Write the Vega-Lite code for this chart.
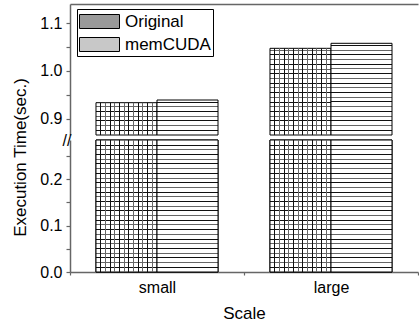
{
  "$schema": "https://vega.github.io/schema/vega-lite/v6.json",
  "padding": {"left": 11, "top": 4, "right": 0, "bottom": 0},
  "spacing": 5,
  "bounds": "flush",
  "data": {"values": [
    {"scale": "small", "series": "Original", "value": 0.9336},
    {"scale": "small", "series": "memCUDA", "value": 0.9392},
    {"scale": "large", "series": "Original", "value": 1.0473},
    {"scale": "large", "series": "memCUDA", "value": 1.0578}
  ]},
  "config": {
    "font": "Liberation Sans",
    "view": {"stroke": null},
    "axis": {"labelColor": "black", "titleColor": "black", "titleFontWeight": "normal", "domainColor": "#666", "tickColor": "#666", "domainWidth": 1.5, "tickWidth": 1.2, "grid": false, "labelFont": "Liberation Sans", "titleFont": "Liberation Sans"}
  },
  "vconcat": [
    {
      "width": 348, "height": 131,
      "encoding": {
        "x": {"field": "scale", "type": "nominal", "scale": {"domain": ["small", "large"], "paddingInner": 0, "paddingOuter": 0}, "axis": {"orient": "top", "labels": false, "ticks": false, "title": null}},
        "xOffset": {"field": "series", "type": "nominal", "scale": {"domain": ["Original", "memCUDA"], "paddingInner": 0, "paddingOuter": 0.426}},
        "y": {"field": "value", "type": "quantitative", "scale": {"domain": [0.866, 1.14], "clamp": true, "zero": false, "nice": false}, "axis": {"title": null, "values": [0.9, 0.95, 1.0, 1.05, 1.1], "labelExpr": "abs(datum.value*10 - round(datum.value*10)) < 0.001 ? format(datum.value, '.1f') : ''", "tickSize": 4, "labelPadding": 4, "labelFontSize": 16}},
        "y2": {"datum": 0}
      },
      "layer": [
        {"transform": [{"filter": "datum.scale === 'small' && datum.series === 'Original'"}],
         "mark": {"type": "bar", "stroke": "black", "strokeWidth": 1, "fill": {"gradient": "linear", "x1": 0, "y1": 1, "x2": 0, "y2": 0, "stops": [
           {"offset": 0, "color": "white"},
           {"offset": 0.1313, "color": "white"}, {"offset": 0.1313, "color": "#111"}, {"offset": 0.1625, "color": "#111"}, {"offset": 0.1625, "color": "white"},
           {"offset": 0.2782, "color": "white"}, {"offset": 0.2782, "color": "#666"}, {"offset": 0.3094, "color": "#666"}, {"offset": 0.3094, "color": "white"},
           {"offset": 0.4251, "color": "white"}, {"offset": 0.4251, "color": "#111"}, {"offset": 0.4563, "color": "#111"}, {"offset": 0.4563, "color": "white"},
           {"offset": 0.5720, "color": "white"}, {"offset": 0.5720, "color": "#666"}, {"offset": 0.6032, "color": "#666"}, {"offset": 0.6032, "color": "white"},
           {"offset": 0.7189, "color": "white"}, {"offset": 0.7189, "color": "#111"}, {"offset": 0.7501, "color": "#111"}, {"offset": 0.7501, "color": "white"},
           {"offset": 0.8658, "color": "white"}, {"offset": 0.8658, "color": "#666"}, {"offset": 0.8970, "color": "#666"}, {"offset": 0.8970, "color": "white"},
           {"offset": 1, "color": "white"}]}}},
        {"transform": [{"filter": "datum.scale === 'small' && datum.series === 'memCUDA'"}],
         "mark": {"type": "bar", "stroke": "black", "strokeWidth": 1, "fill": {"gradient": "linear", "x1": 0, "y1": 1, "x2": 0, "y2": 0, "stops": [
           {"offset": 0, "color": "white"},
           {"offset": 0.1204, "color": "white"}, {"offset": 0.1204, "color": "#111"}, {"offset": 0.1490, "color": "#111"}, {"offset": 0.1490, "color": "white"},
           {"offset": 0.2551, "color": "white"}, {"offset": 0.2551, "color": "#666"}, {"offset": 0.2837, "color": "#666"}, {"offset": 0.2837, "color": "white"},
           {"offset": 0.3898, "color": "white"}, {"offset": 0.3898, "color": "#111"}, {"offset": 0.4184, "color": "#111"}, {"offset": 0.4184, "color": "white"},
           {"offset": 0.5245, "color": "white"}, {"offset": 0.5245, "color": "#666"}, {"offset": 0.5531, "color": "#666"}, {"offset": 0.5531, "color": "white"},
           {"offset": 0.6592, "color": "white"}, {"offset": 0.6592, "color": "#111"}, {"offset": 0.6878, "color": "#111"}, {"offset": 0.6878, "color": "white"},
           {"offset": 0.7939, "color": "white"}, {"offset": 0.7939, "color": "#666"}, {"offset": 0.8225, "color": "#666"}, {"offset": 0.8225, "color": "white"},
           {"offset": 0.9286, "color": "white"}, {"offset": 0.9286, "color": "#111"}, {"offset": 0.9572, "color": "#111"}, {"offset": 0.9572, "color": "white"},
           {"offset": 1, "color": "white"}]}}},
        {"transform": [{"filter": "datum.scale === 'large' && datum.series === 'Original'"}],
         "mark": {"type": "bar", "stroke": "black", "strokeWidth": 1, "fill": {"gradient": "linear", "x1": 0, "y1": 1, "x2": 0, "y2": 0, "stops": [
           {"offset": 0, "color": "white"},
           {"offset": 0.0485, "color": "white"}, {"offset": 0.0485, "color": "#111"}, {"offset": 0.0601, "color": "#111"}, {"offset": 0.0601, "color": "white"},
           {"offset": 0.1029, "color": "white"}, {"offset": 0.1029, "color": "#666"}, {"offset": 0.1145, "color": "#666"}, {"offset": 0.1145, "color": "white"},
           {"offset": 0.1572, "color": "white"}, {"offset": 0.1572, "color": "#111"}, {"offset": 0.1688, "color": "#111"}, {"offset": 0.1688, "color": "white"},
           {"offset": 0.2116, "color": "white"}, {"offset": 0.2116, "color": "#666"}, {"offset": 0.2232, "color": "#666"}, {"offset": 0.2232, "color": "white"},
           {"offset": 0.2659, "color": "white"}, {"offset": 0.2659, "color": "#111"}, {"offset": 0.2775, "color": "#111"}, {"offset": 0.2775, "color": "white"},
           {"offset": 0.3202, "color": "white"}, {"offset": 0.3202, "color": "#666"}, {"offset": 0.3318, "color": "#666"}, {"offset": 0.3318, "color": "white"},
           {"offset": 0.3746, "color": "white"}, {"offset": 0.3746, "color": "#111"}, {"offset": 0.3862, "color": "#111"}, {"offset": 0.3862, "color": "white"},
           {"offset": 0.4289, "color": "white"}, {"offset": 0.4289, "color": "#666"}, {"offset": 0.4405, "color": "#666"}, {"offset": 0.4405, "color": "white"},
           {"offset": 0.4833, "color": "white"}, {"offset": 0.4833, "color": "#111"}, {"offset": 0.4949, "color": "#111"}, {"offset": 0.4949, "color": "white"},
           {"offset": 0.5376, "color": "white"}, {"offset": 0.5376, "color": "#666"}, {"offset": 0.5492, "color": "#666"}, {"offset": 0.5492, "color": "white"},
           {"offset": 0.5919, "color": "white"}, {"offset": 0.5919, "color": "#111"}, {"offset": 0.6035, "color": "#111"}, {"offset": 0.6035, "color": "white"},
           {"offset": 0.6463, "color": "white"}, {"offset": 0.6463, "color": "#666"}, {"offset": 0.6579, "color": "#666"}, {"offset": 0.6579, "color": "white"},
           {"offset": 0.7006, "color": "white"}, {"offset": 0.7006, "color": "#111"}, {"offset": 0.7122, "color": "#111"}, {"offset": 0.7122, "color": "white"},
           {"offset": 0.7550, "color": "white"}, {"offset": 0.7550, "color": "#666"}, {"offset": 0.7666, "color": "#666"}, {"offset": 0.7666, "color": "white"},
           {"offset": 0.8093, "color": "white"}, {"offset": 0.8093, "color": "#111"}, {"offset": 0.8209, "color": "#111"}, {"offset": 0.8209, "color": "white"},
           {"offset": 0.8636, "color": "white"}, {"offset": 0.8636, "color": "#666"}, {"offset": 0.8752, "color": "#666"}, {"offset": 0.8752, "color": "white"},
           {"offset": 0.9180, "color": "white"}, {"offset": 0.9180, "color": "#111"}, {"offset": 0.9296, "color": "#111"}, {"offset": 0.9296, "color": "white"},
           {"offset": 0.9723, "color": "white"}, {"offset": 0.9723, "color": "#666"}, {"offset": 0.9839, "color": "#666"}, {"offset": 0.9839, "color": "white"},
           {"offset": 1, "color": "white"}]}}},
        {"transform": [{"filter": "datum.scale === 'large' && datum.series === 'memCUDA'"}],
         "mark": {"type": "bar", "stroke": "black", "strokeWidth": 1, "fill": {"gradient": "linear", "x1": 0, "y1": 1, "x2": 0, "y2": 0, "stops": [
           {"offset": 0, "color": "white"},
           {"offset": 0.0460, "color": "white"}, {"offset": 0.0460, "color": "#111"}, {"offset": 0.0570, "color": "#111"}, {"offset": 0.0570, "color": "white"},
           {"offset": 0.0975, "color": "white"}, {"offset": 0.0975, "color": "#666"}, {"offset": 0.1085, "color": "#666"}, {"offset": 0.1085, "color": "white"},
           {"offset": 0.1489, "color": "white"}, {"offset": 0.1489, "color": "#111"}, {"offset": 0.1599, "color": "#111"}, {"offset": 0.1599, "color": "white"},
           {"offset": 0.2004, "color": "white"}, {"offset": 0.2004, "color": "#666"}, {"offset": 0.2114, "color": "#666"}, {"offset": 0.2114, "color": "white"},
           {"offset": 0.2519, "color": "white"}, {"offset": 0.2519, "color": "#111"}, {"offset": 0.2629, "color": "#111"}, {"offset": 0.2629, "color": "white"},
           {"offset": 0.3034, "color": "white"}, {"offset": 0.3034, "color": "#666"}, {"offset": 0.3144, "color": "#666"}, {"offset": 0.3144, "color": "white"},
           {"offset": 0.3549, "color": "white"}, {"offset": 0.3549, "color": "#111"}, {"offset": 0.3659, "color": "#111"}, {"offset": 0.3659, "color": "white"},
           {"offset": 0.4063, "color": "white"}, {"offset": 0.4063, "color": "#666"}, {"offset": 0.4173, "color": "#666"}, {"offset": 0.4173, "color": "white"},
           {"offset": 0.4578, "color": "white"}, {"offset": 0.4578, "color": "#111"}, {"offset": 0.4688, "color": "#111"}, {"offset": 0.4688, "color": "white"},
           {"offset": 0.5093, "color": "white"}, {"offset": 0.5093, "color": "#666"}, {"offset": 0.5203, "color": "#666"}, {"offset": 0.5203, "color": "white"},
           {"offset": 0.5608, "color": "white"}, {"offset": 0.5608, "color": "#111"}, {"offset": 0.5718, "color": "#111"}, {"offset": 0.5718, "color": "white"},
           {"offset": 0.6123, "color": "white"}, {"offset": 0.6123, "color": "#666"}, {"offset": 0.6233, "color": "#666"}, {"offset": 0.6233, "color": "white"},
           {"offset": 0.6637, "color": "white"}, {"offset": 0.6637, "color": "#111"}, {"offset": 0.6747, "color": "#111"}, {"offset": 0.6747, "color": "white"},
           {"offset": 0.7152, "color": "white"}, {"offset": 0.7152, "color": "#666"}, {"offset": 0.7262, "color": "#666"}, {"offset": 0.7262, "color": "white"},
           {"offset": 0.7667, "color": "white"}, {"offset": 0.7667, "color": "#111"}, {"offset": 0.7777, "color": "#111"}, {"offset": 0.7777, "color": "white"},
           {"offset": 0.8182, "color": "white"}, {"offset": 0.8182, "color": "#666"}, {"offset": 0.8292, "color": "#666"}, {"offset": 0.8292, "color": "white"},
           {"offset": 0.8697, "color": "white"}, {"offset": 0.8697, "color": "#111"}, {"offset": 0.8807, "color": "#111"}, {"offset": 0.8807, "color": "white"},
           {"offset": 0.9211, "color": "white"}, {"offset": 0.9211, "color": "#666"}, {"offset": 0.9321, "color": "#666"}, {"offset": 0.9321, "color": "white"},
           {"offset": 0.9726, "color": "white"}, {"offset": 0.9726, "color": "#111"}, {"offset": 0.9836, "color": "#111"}, {"offset": 0.9836, "color": "white"},
           {"offset": 1, "color": "white"}]}}},
        {"transform": [{"filter": "datum.series === 'Original'"}],
         "mark": {"type": "bar", "strokeWidth": 0, "fill": {"gradient": "linear", "x1": 0, "y1": 0, "x2": 1, "y2": 0, "stops": [
           {"offset": 0, "color": "transparent"},
           {"offset": 0.0689, "color": "transparent"}, {"offset": 0.0689, "color": "#111"}, {"offset": 0.0853, "color": "#111"}, {"offset": 0.0853, "color": "transparent"},
           {"offset": 0.1459, "color": "transparent"}, {"offset": 0.1459, "color": "#666"}, {"offset": 0.1623, "color": "#666"}, {"offset": 0.1623, "color": "transparent"},
           {"offset": 0.2230, "color": "transparent"}, {"offset": 0.2230, "color": "#111"}, {"offset": 0.2394, "color": "#111"}, {"offset": 0.2394, "color": "transparent"},
           {"offset": 0.3000, "color": "transparent"}, {"offset": 0.3000, "color": "#666"}, {"offset": 0.3164, "color": "#666"}, {"offset": 0.3164, "color": "transparent"},
           {"offset": 0.3771, "color": "transparent"}, {"offset": 0.3771, "color": "#111"}, {"offset": 0.3935, "color": "#111"}, {"offset": 0.3935, "color": "transparent"},
           {"offset": 0.4541, "color": "transparent"}, {"offset": 0.4541, "color": "#666"}, {"offset": 0.4705, "color": "#666"}, {"offset": 0.4705, "color": "transparent"},
           {"offset": 0.5312, "color": "transparent"}, {"offset": 0.5312, "color": "#111"}, {"offset": 0.5476, "color": "#111"}, {"offset": 0.5476, "color": "transparent"},
           {"offset": 0.6082, "color": "transparent"}, {"offset": 0.6082, "color": "#666"}, {"offset": 0.6246, "color": "#666"}, {"offset": 0.6246, "color": "transparent"},
           {"offset": 0.6853, "color": "transparent"}, {"offset": 0.6853, "color": "#111"}, {"offset": 0.7017, "color": "#111"}, {"offset": 0.7017, "color": "transparent"},
           {"offset": 0.7623, "color": "transparent"}, {"offset": 0.7623, "color": "#666"}, {"offset": 0.7787, "color": "#666"}, {"offset": 0.7787, "color": "transparent"},
           {"offset": 0.8394, "color": "transparent"}, {"offset": 0.8394, "color": "#111"}, {"offset": 0.8558, "color": "#111"}, {"offset": 0.8558, "color": "transparent"},
           {"offset": 0.9164, "color": "transparent"}, {"offset": 0.9164, "color": "#666"}, {"offset": 0.9328, "color": "#666"}, {"offset": 0.9328, "color": "transparent"},
           {"offset": 1, "color": "transparent"}]}}}
      ]
    },
    {
      "width": 348, "height": 132,
      "encoding": {
        "x": {"field": "scale", "type": "nominal", "scale": {"domain": ["small", "large"], "paddingInner": 0, "paddingOuter": 0}, "axis": {"title": "Scale", "labelAngle": 0, "tickBand": "extent", "tickSize": 3, "labelPadding": 4, "labelFontSize": 16, "titleFontSize": 17, "titlePadding": 10}},
        "xOffset": {"field": "series", "type": "nominal", "scale": {"domain": ["Original", "memCUDA"], "paddingInner": 0, "paddingOuter": 0.426}},
        "y": {"field": "value", "type": "quantitative", "scale": {"domain": [0, 0.2845], "clamp": true, "nice": false}, "axis": {"title": "Execution Time(sec.)", "titleFontSize": 17, "titleY": 17, "titlePadding": 10, "values": [0, 0.05, 0.1, 0.15, 0.2, 0.25, 0.2845], "labelExpr": "datum.value > 0.28 ? '\u00a0//' : abs(datum.value*10 - round(datum.value*10)) < 0.001 ? format(datum.value, '.1f') : ''", "labelAlign": {"condition": {"test": "datum.value > 0.28", "value": "left"}, "value": "right"}, "tickOpacity": {"condition": {"test": "datum.value > 0.28", "value": 0}, "value": 1}, "tickSize": 4, "labelPadding": 4, "labelFontSize": 16}},
        "y2": {"datum": 0}
      },
      "layer": [
        {"mark": {"type": "bar", "stroke": "black", "strokeWidth": 1},
         "encoding": {"color": {"field": "series", "type": "nominal", "scale": {"domain": ["Original", "memCUDA"], "range": ["#9a9a9a", "#c8c8c8"]},
         "legend": {"orient": "none", "legendX": 7, "legendY": 5, "title": null, "symbolType": "M-1,-0.7H3V0.7H-1Z", "symbolSize": 400, "symbolStrokeColor": "black", "symbolStrokeWidth": 1, "labelFont": "Liberation Sans", "labelFontSize": 17, "labelColor": "black", "labelOffset": 25, "labelLimit": 0, "padding": 2, "rowPadding": 3, "strokeColor": "black", "fillColor": "white"}}}},
        {"mark": {"type": "bar", "stroke": "black", "strokeWidth": 1, "fill": {"gradient": "linear", "x1": 0, "y1": 1, "x2": 0, "y2": 0, "stops": [
           {"offset": 0, "color": "white"},
           {"offset": 0.0318, "color": "white"}, {"offset": 0.0318, "color": "#111"}, {"offset": 0.0394, "color": "#111"}, {"offset": 0.0394, "color": "white"},
           {"offset": 0.0674, "color": "white"}, {"offset": 0.0674, "color": "#666"}, {"offset": 0.0750, "color": "#666"}, {"offset": 0.0750, "color": "white"},
           {"offset": 0.1030, "color": "white"}, {"offset": 0.1030, "color": "#111"}, {"offset": 0.1106, "color": "#111"}, {"offset": 0.1106, "color": "white"},
           {"offset": 0.1386, "color": "white"}, {"offset": 0.1386, "color": "#666"}, {"offset": 0.1462, "color": "#666"}, {"offset": 0.1462, "color": "white"},
           {"offset": 0.1742, "color": "white"}, {"offset": 0.1742, "color": "#111"}, {"offset": 0.1818, "color": "#111"}, {"offset": 0.1818, "color": "white"},
           {"offset": 0.2098, "color": "white"}, {"offset": 0.2098, "color": "#666"}, {"offset": 0.2174, "color": "#666"}, {"offset": 0.2174, "color": "white"},
           {"offset": 0.2454, "color": "white"}, {"offset": 0.2454, "color": "#111"}, {"offset": 0.2530, "color": "#111"}, {"offset": 0.2530, "color": "white"},
           {"offset": 0.2810, "color": "white"}, {"offset": 0.2810, "color": "#666"}, {"offset": 0.2886, "color": "#666"}, {"offset": 0.2886, "color": "white"},
           {"offset": 0.3167, "color": "white"}, {"offset": 0.3167, "color": "#111"}, {"offset": 0.3243, "color": "#111"}, {"offset": 0.3243, "color": "white"},
           {"offset": 0.3523, "color": "white"}, {"offset": 0.3523, "color": "#666"}, {"offset": 0.3599, "color": "#666"}, {"offset": 0.3599, "color": "white"},
           {"offset": 0.3879, "color": "white"}, {"offset": 0.3879, "color": "#111"}, {"offset": 0.3955, "color": "#111"}, {"offset": 0.3955, "color": "white"},
           {"offset": 0.4235, "color": "white"}, {"offset": 0.4235, "color": "#666"}, {"offset": 0.4311, "color": "#666"}, {"offset": 0.4311, "color": "white"},
           {"offset": 0.4591, "color": "white"}, {"offset": 0.4591, "color": "#111"}, {"offset": 0.4667, "color": "#111"}, {"offset": 0.4667, "color": "white"},
           {"offset": 0.4947, "color": "white"}, {"offset": 0.4947, "color": "#666"}, {"offset": 0.5023, "color": "#666"}, {"offset": 0.5023, "color": "white"},
           {"offset": 0.5303, "color": "white"}, {"offset": 0.5303, "color": "#111"}, {"offset": 0.5379, "color": "#111"}, {"offset": 0.5379, "color": "white"},
           {"offset": 0.5659, "color": "white"}, {"offset": 0.5659, "color": "#666"}, {"offset": 0.5735, "color": "#666"}, {"offset": 0.5735, "color": "white"},
           {"offset": 0.6015, "color": "white"}, {"offset": 0.6015, "color": "#111"}, {"offset": 0.6091, "color": "#111"}, {"offset": 0.6091, "color": "white"},
           {"offset": 0.6371, "color": "white"}, {"offset": 0.6371, "color": "#666"}, {"offset": 0.6447, "color": "#666"}, {"offset": 0.6447, "color": "white"},
           {"offset": 0.6727, "color": "white"}, {"offset": 0.6727, "color": "#111"}, {"offset": 0.6803, "color": "#111"}, {"offset": 0.6803, "color": "white"},
           {"offset": 0.7083, "color": "white"}, {"offset": 0.7083, "color": "#666"}, {"offset": 0.7159, "color": "#666"}, {"offset": 0.7159, "color": "white"},
           {"offset": 0.7439, "color": "white"}, {"offset": 0.7439, "color": "#111"}, {"offset": 0.7515, "color": "#111"}, {"offset": 0.7515, "color": "white"},
           {"offset": 0.7795, "color": "white"}, {"offset": 0.7795, "color": "#666"}, {"offset": 0.7871, "color": "#666"}, {"offset": 0.7871, "color": "white"},
           {"offset": 0.8151, "color": "white"}, {"offset": 0.8151, "color": "#111"}, {"offset": 0.8227, "color": "#111"}, {"offset": 0.8227, "color": "white"},
           {"offset": 0.8507, "color": "white"}, {"offset": 0.8507, "color": "#666"}, {"offset": 0.8583, "color": "#666"}, {"offset": 0.8583, "color": "white"},
           {"offset": 0.8863, "color": "white"}, {"offset": 0.8863, "color": "#111"}, {"offset": 0.8939, "color": "#111"}, {"offset": 0.8939, "color": "white"},
           {"offset": 0.9220, "color": "white"}, {"offset": 0.9220, "color": "#666"}, {"offset": 0.9296, "color": "#666"}, {"offset": 0.9296, "color": "white"},
           {"offset": 0.9576, "color": "white"}, {"offset": 0.9576, "color": "#111"}, {"offset": 0.9652, "color": "#111"}, {"offset": 0.9652, "color": "white"},
           {"offset": 1, "color": "white"}]}}},
        {"transform": [{"filter": "datum.series === 'Original'"}],
         "mark": {"type": "bar", "strokeWidth": 0, "fill": {"gradient": "linear", "x1": 0, "y1": 0, "x2": 1, "y2": 0, "stops": [
           {"offset": 0, "color": "transparent"},
           {"offset": 0.0689, "color": "transparent"}, {"offset": 0.0689, "color": "#111"}, {"offset": 0.0853, "color": "#111"}, {"offset": 0.0853, "color": "transparent"},
           {"offset": 0.1459, "color": "transparent"}, {"offset": 0.1459, "color": "#666"}, {"offset": 0.1623, "color": "#666"}, {"offset": 0.1623, "color": "transparent"},
           {"offset": 0.2230, "color": "transparent"}, {"offset": 0.2230, "color": "#111"}, {"offset": 0.2394, "color": "#111"}, {"offset": 0.2394, "color": "transparent"},
           {"offset": 0.3000, "color": "transparent"}, {"offset": 0.3000, "color": "#666"}, {"offset": 0.3164, "color": "#666"}, {"offset": 0.3164, "color": "transparent"},
           {"offset": 0.3771, "color": "transparent"}, {"offset": 0.3771, "color": "#111"}, {"offset": 0.3935, "color": "#111"}, {"offset": 0.3935, "color": "transparent"},
           {"offset": 0.4541, "color": "transparent"}, {"offset": 0.4541, "color": "#666"}, {"offset": 0.4705, "color": "#666"}, {"offset": 0.4705, "color": "transparent"},
           {"offset": 0.5312, "color": "transparent"}, {"offset": 0.5312, "color": "#111"}, {"offset": 0.5476, "color": "#111"}, {"offset": 0.5476, "color": "transparent"},
           {"offset": 0.6082, "color": "transparent"}, {"offset": 0.6082, "color": "#666"}, {"offset": 0.6246, "color": "#666"}, {"offset": 0.6246, "color": "transparent"},
           {"offset": 0.6853, "color": "transparent"}, {"offset": 0.6853, "color": "#111"}, {"offset": 0.7017, "color": "#111"}, {"offset": 0.7017, "color": "transparent"},
           {"offset": 0.7623, "color": "transparent"}, {"offset": 0.7623, "color": "#666"}, {"offset": 0.7787, "color": "#666"}, {"offset": 0.7787, "color": "transparent"},
           {"offset": 0.8394, "color": "transparent"}, {"offset": 0.8394, "color": "#111"}, {"offset": 0.8558, "color": "#111"}, {"offset": 0.8558, "color": "transparent"},
           {"offset": 0.9164, "color": "transparent"}, {"offset": 0.9164, "color": "#666"}, {"offset": 0.9328, "color": "#666"}, {"offset": 0.9328, "color": "transparent"},
           {"offset": 1, "color": "transparent"}]}}}
      ]
    }
  ]
}
